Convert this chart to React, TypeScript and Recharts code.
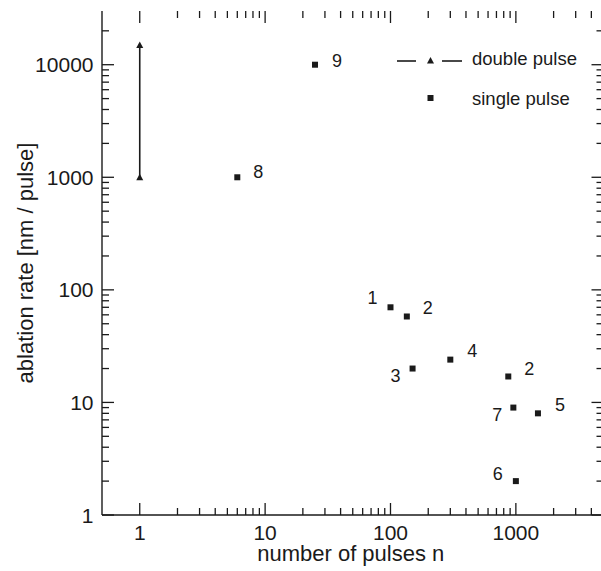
import { ScatterChart, Scatter, XAxis, YAxis, Legend } from 'recharts';

// single pulse measurements
const SINGLE_N = [6, 25, 100, 135, 150, 300, 870, 955, 1500, 1000];
const SINGLE_RATE = [1000, 10000, 70, 58, 20, 24, 17, 9, 8, 2];
const SINGLE_LABELS = ['8', '9', '1', '2', '3', '4', '2', '7', '5', '6'];

// double pulse range
const DOUBLE_N = [1, 1];
const DOUBLE_RATE = [1000, 15000];

const X_TICKS = [1, 2, 3, 4, 5, 6, 7, 8, 9, 10, 20, 30, 40, 50, 60, 70, 80, 90, 100, 200, 300, 400, 500, 600, 700, 800, 900, 1000, 2000, 3000, 4000];
const Y_TICKS = [1, 2, 3, 4, 5, 6, 7, 8, 9, 10, 20, 30, 40, 50, 60, 70, 80, 90, 100, 200, 300, 400, 500, 600, 700, 800, 900, 1000, 2000, 3000, 4000, 5000, 6000, 7000, 8000, 9000, 10000, 20000];
const X_MAJOR = [1, 10, 100, 1000];
const Y_MAJOR = [1, 10, 100, 1000, 10000];

// where each point's number sits relative to the marker
const LABEL_OFFSET: [number, number][] = [
  [21, -5], [22, -4], [-18, -9], [21, -8], [-17, 7], [22, -9], [21, -7], [-16, 7], [22, -8], [-18, -7],
];

const INK = '#1a1a1a';
const FONT = '"Liberation Sans", Arial, Helvetica, sans-serif';

const CHART_W = 620;
const CHART_H = 571;
const MARGIN = { top: 11, right: 16.5, bottom: 0, left: 0 };
const X_AXIS_H = 56;
const Y_AXIS_W = 102;
const PLOT_TOP = MARGIN.top;
const PLOT_RIGHT = CHART_W - MARGIN.right;
const PLOT_BOTTOM = CHART_H - MARGIN.bottom - X_AXIS_H;
const PLOT_LEFT = MARGIN.left + Y_AXIS_W;

const single = SINGLE_N.map((n, i) => ({ n, rate: SINGLE_RATE[i], label: SINGLE_LABELS[i], i }));
const double = DOUBLE_N.map((n, i) => ({ n, rate: DOUBLE_RATE[i] }));

const MAJOR_LEN = 12;
const MINOR_LEN = 7;
const TICK_W = 1.3;

// inward ticks on the bottom edge, mirrored on the top edge
function BottomTick(props: any) {
  const x = Number(props.x);
  const major = X_MAJOR.includes(props.payload.value);
  const len = major ? MAJOR_LEN : MINOR_LEN;
  return (
    <g>
      <path d={`M${x},${PLOT_BOTTOM}V${PLOT_BOTTOM - len}`} stroke={INK} strokeWidth={TICK_W} fill="none" />
      <path d={`M${x},${PLOT_TOP}V${PLOT_TOP + len}`} stroke={INK} strokeWidth={TICK_W} fill="none" />
      {major && (
        <text x={x} y={PLOT_BOTTOM + 24.5} textAnchor="middle" fontSize={21} fontFamily={FONT} fill={INK}>
          {props.payload.value}
        </text>
      )}
    </g>
  );
}

// inward ticks on the left edge, mirrored on the right edge
function LeftTick(props: any) {
  const y = Number(props.y);
  const major = Y_MAJOR.includes(props.payload.value);
  const len = major ? MAJOR_LEN : MINOR_LEN;
  return (
    <g>
      <path d={`M${PLOT_LEFT},${y}H${PLOT_LEFT + len}`} stroke={INK} strokeWidth={TICK_W} fill="none" />
      <path d={`M${PLOT_RIGHT},${y}H${PLOT_RIGHT - len}`} stroke={INK} strokeWidth={TICK_W} fill="none" />
      {major && (
        <text x={PLOT_LEFT - 8.5} y={y} textAnchor="end" dominantBaseline="central" fontSize={21} fontFamily={FONT} fill={INK}>
          {props.payload.value}
        </text>
      )}
    </g>
  );
}

function Square(props: any) {
  const { cx, cy, payload } = props;
  const [dx, dy] = LABEL_OFFSET[payload.i];
  return (
    <g>
      <rect x={cx - 3} y={cy - 3} width={6} height={6} fill={INK} />
      <text x={cx + dx} y={cy + dy} textAnchor="middle" dominantBaseline="central" fontSize={18} fontFamily={FONT} fill={INK}>
        {payload.label}
      </text>
    </g>
  );
}

function Triangle(props: any) {
  const { cx, cy } = props;
  return <polygon points={`${cx - 3.5},${cy + 3} ${cx + 3.5},${cy + 3} ${cx},${cy - 3.5}`} fill={INK} />;
}

function LegendBox() {
  return (
    <svg width={210} height={80} style={{ display: 'block' }}>
      <line x1={7} x2={26} y1={21} y2={21} stroke={INK} strokeWidth={1.6} />
      <polygon points="37,23.5 44,23.5 40.5,17" fill={INK} />
      <line x1={52} x2={72} y1={21} y2={21} stroke={INK} strokeWidth={1.6} />
      <text x={82} y={18} dominantBaseline="central" fontSize={18.5} fontFamily={FONT} fill={INK}>double pulse</text>
      <rect x={37.5} y={55} width={6} height={6} fill={INK} />
      <text x={82} y={58} dominantBaseline="central" fontSize={18.5} fontFamily={FONT} fill={INK}>single pulse</text>
    </svg>
  );
}

export default function App() {
  return (
    <div style={{ position: 'fixed', left: 0, top: 0, width: 601, height: 571, overflow: 'hidden', background: '#fff' }}>
      <ScatterChart width={CHART_W} height={CHART_H} margin={MARGIN}>
        <XAxis
          xAxisId="b"
          dataKey="n"
          type="number"
          scale="log"
          domain={[0.5, 5000]}
          allowDataOverflow
          ticks={X_TICKS}
          interval={0}
          tickSize={0}
          tickMargin={0}
          tickLine={false}
          tick={BottomTick}
          height={X_AXIS_H}
          axisLine={{ stroke: INK, strokeWidth: 1.4 }}
          label={(p: any) => {
            const vb = p.viewBox;
            return (
              <text x={vb.x + vb.width / 2 - 2} y={561} textAnchor="middle" fontSize={22} fontFamily={FONT} fill={INK}>
                number of pulses n
              </text>
            );
          }}
        />
        <XAxis
          xAxisId="t"
          orientation="top"
          type="number"
          scale="log"
          domain={[0.5, 5000]}
          allowDataOverflow
          tick={false}
          tickLine={false}
          height={0}
          axisLine={{ stroke: INK, strokeWidth: 1.4 }}
        />
        <YAxis
          yAxisId="l"
          dataKey="rate"
          type="number"
          scale="log"
          domain={[1, 30000]}
          allowDataOverflow
          ticks={Y_TICKS}
          interval={0}
          tickSize={0}
          tickMargin={0}
          tickLine={false}
          tick={LeftTick}
          width={Y_AXIS_W}
          axisLine={{ stroke: INK, strokeWidth: 1.4 }}
          label={(p: any) => {
            const vb = p.viewBox;
            const cy = vb.y + vb.height / 2;
            return (
              <text x={33} y={cy} transform={`rotate(-90 33 ${cy})`} textAnchor="middle" fontSize={22} fontFamily={FONT} fill={INK}>
                ablation rate [nm / pulse]
              </text>
            );
          }}
        />
        <Legend
          layout="vertical"
          align="center"
          verticalAlign="middle"
          wrapperStyle={{ left: 390, top: 40, width: 210 }}
          content={() => <LegendBox />}
        />
        <Scatter
          name="double pulse"
          data={double}
          xAxisId="b"
          yAxisId="l"
          dataKey="rate"
          shape={<Triangle />}
          line={{ stroke: INK, strokeWidth: 1.6 }}
          isAnimationActive={false}
        />
        <Scatter
          name="single pulse"
          data={single}
          xAxisId="b"
          yAxisId="l"
          dataKey="rate"
          shape={<Square />}
          isAnimationActive={false}
        />
      </ScatterChart>
    </div>
  );
}
